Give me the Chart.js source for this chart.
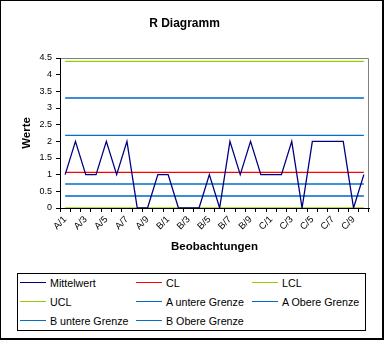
<!DOCTYPE html>
<html>
<head>
<meta charset="utf-8">
<script src="https://cdn.jsdelivr.net/npm/chart.js@4"></script>
<style>
  body { margin: 0; background: #fff; }
  #wrap { position: relative; width: 384px; height: 340px; font-family: Arial, "Liberation Sans", sans-serif; }
  #chart { position: absolute; left: 0; top: 0; }
  #frame { position: absolute; left: 0; top: 0; width: 384px; height: 340px; box-sizing: border-box;
           border: 1px solid #000; border-right-width: 2px; border-bottom-width: 2px; pointer-events: none; }
  #legend { position: absolute; left: 17px; top: 273px; width: 349px; height: 58px; box-sizing: border-box;
            border: 1px solid #000; background: #fff; }
  .item { position: absolute; height: 14px; font-size: 10.7px; line-height: 14px; color: #000; white-space: nowrap; }
  .item i { position: absolute; left: 0; top: 6px; width: 26px; height: 0; border-top: 1.5px solid; }
  .item span { position: absolute; left: 30px; top: 0; }
</style>
</head>
<body>
<div id="wrap">
  <canvas id="chart" width="384" height="340"></canvas>
  <div id="legend"></div>
  <div id="frame"></div>
</div>
<script>
// R-Karte: Beobachtungen A/1 .. C/10
const kategorien = [
    'A/1','A/2','A/3','A/4','A/5','A/6','A/7','A/8','A/9','A/10',
    'B/1','B/2','B/3','B/4','B/5','B/6','B/7','B/8','B/9','B/10',
    'C/1','C/2','C/3','C/4','C/5','C/6','C/7','C/8','C/9','C/10'
];
const mittelwert = [
    1, 2, 1, 1, 2, 1, 2, 0, 0, 1,
    1, 0, 0, 0, 1, 0, 2, 1, 2, 1,
    1, 1, 2, 0, 2, 2, 2, 2, 0, 1
];
const grenzNamen = ['CL', 'LCL', 'UCL', 'A untere Grenze', 'A Obere Grenze', 'B untere Grenze', 'B Obere Grenze'];
const grenzWerte = [1.07, 0, 4.4, 0.36, 3.3, 0.72, 2.18];
const grenzFarben = ['#FF0000', '#99CC00', '#99CC00', '#0066CC', '#0066CC', '#0070C8', '#0070C8'];
const yMin = 0, yMax = 4.5, yStep = 0.5;

const FONT = 'Arial, "Liberation Sans", sans-serif';

const datasets = [{
    label: 'Mittelwert',
    data: mittelwert,
    borderColor: '#000080',
    borderWidth: 1.3,
    pointRadius: 0,
    tension: 0
}];
grenzNamen.forEach((name, i) => {
    datasets.push({
        label: name,
        data: kategorien.map(() => grenzWerte[i]),
        borderColor: grenzFarben[i],
        borderWidth: 1.4,
        pointRadius: 0,
        tension: 0
    });
});

// grey frame on top and right of the plot area
const plotFrame = {
    id: 'plotFrame',
    beforeDatasetsDraw(chart) {
        const { ctx, chartArea: a } = chart;
        ctx.save();
        ctx.strokeStyle = '#808080';
        ctx.lineWidth = 1;
        ctx.beginPath();
        ctx.moveTo(a.left, a.top + 0.5);
        ctx.lineTo(a.right - 0.5, a.top + 0.5);
        ctx.lineTo(a.right - 0.5, a.bottom);
        ctx.stroke();
        ctx.restore();
    }
};

const chart = new Chart(document.getElementById('chart'), {
    type: 'line',
    data: { labels: kategorien, datasets },
    plugins: [plotFrame],
    options: {
        responsive: false,
        animation: false,
        layout: { padding: { left: 0, right: 15, top: 0, bottom: 0 } },
        plugins: {
            legend: { display: false },
            tooltip: { enabled: false },
            title: {
                display: true,
                text: 'R Diagramm',
                color: '#000',
                font: { family: FONT, size: 12, weight: 'bold' },
                padding: { top: 16, bottom: 27.6 }
            }
        },
        scales: {
            x: {
                type: 'category',
                offset: true,
                afterFit(s) { s.height = 132; },
                grid: { drawOnChartArea: false, drawTicks: true, tickLength: 4, color: '#000', offset: true },
                border: { color: '#000', width: 1, z: 1 },
                ticks: {
                    autoSkip: false,
                    minRotation: 45,
                    maxRotation: 45,
                    padding: 2,
                    color: '#000',
                    font: { family: FONT, size: 9.5 },
                    callback(v, i) { return i % 2 === 0 ? kategorien[i] : ''; }
                },
                title: {
                    display: true,
                    text: 'Beobachtungen',
                    color: '#000',
                    font: { family: FONT, size: 11.5, weight: 'bold' },
                    padding: { top: 0, bottom: 86 }
                }
            },
            y: {
                min: yMin,
                max: yMax,
                afterFit(s) { s.width = 60; },
                grid: { drawOnChartArea: false, drawTicks: true, tickLength: 4, color: '#000' },
                border: { color: '#000', width: 1, z: 1 },
                ticks: {
                    stepSize: yStep,
                    padding: 4,
                    color: '#000',
                    font: { family: FONT, size: 9 },
                    callback(v) { return String(Math.round(v * 10) / 10); }
                },
                title: {
                    display: true,
                    text: 'Werte',
                    color: '#000',
                    font: { family: FONT, size: 11.5, weight: 'bold' },
                    padding: { top: 20, bottom: 0 }
                }
            }
        }
    }
});

// legend in three columns, built from the chart's datasets
const legend = document.getElementById('legend');
chart.data.datasets.forEach((ds, i) => {
    const el = document.createElement('div');
    el.className = 'item';
    el.style.left = (2 + (i % 3) * 116) + 'px';
    el.style.top = (2 + Math.floor(i / 3) * 19) + 'px';
    el.innerHTML = '<i style="border-color:' + ds.borderColor + '"></i><span>' + ds.label + '</span>';
    legend.appendChild(el);
});
</script>
</body>
</html>
